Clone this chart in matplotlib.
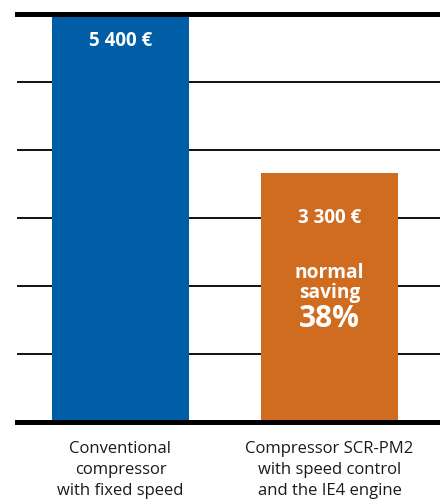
import matplotlib
matplotlib.use("Agg")
import matplotlib.pyplot as plt
from matplotlib.ticker import MultipleLocator

categories = ["Conventional\ncompressor\nwith fixed speed",
              "Compressor SCR-PM2\nwith speed control\nand the IE4 engine"]
values = [5400, 3300]
value_labels = ["5 400 €", "3 300 €"]
saving_label = "38%"
colors = ["#005EA6", "#D06C20"]

plt.rcParams['font.family'] = ['Open Sans', 'DejaVu Sans']

fig = plt.figure(figsize=(4.4, 5.0), dpi=100)
H = 500.0
ax = fig.add_axes([17/440, (H-422)/H, 423/440, 408/H])

x = [0, 1]
ax.bar(x, values, width=0.6555, color=colors, zorder=2)
ax.set_xlim(-0.495, 1.529)
ax.set_ylim(0, max(values))

ax.yaxis.set_major_locator(MultipleLocator(max(values)/6))
ax.grid(axis='y', color='#111111', linewidth=1.4, zorder=1)
ax.set_axisbelow(True)
ax.tick_params(left=False, bottom=False, labelleft=False, labelbottom=False)
for s in ['left', 'right']:
    ax.spines[s].set_visible(False)
for s in ['top', 'bottom']:
    ax.spines[s].set_linewidth(3.6)
    ax.spines[s].set_color('black')
    ax.spines[s].set_zorder(3)

def ya(ypx):
    return (422 - ypx) / 408.0

trans = ax.get_xaxis_transform()
ax.text(x[0], ya(41), value_labels[0], transform=trans, ha='center', va='center',
        color='white', fontsize=13.5, fontweight='bold')
ax.text(x[1], ya(218), value_labels[1], transform=trans, ha='center', va='center',
        color='white', fontsize=13.5, fontweight='bold')
ax.text(x[1], ya(283), "normal\nsaving", transform=trans, ha='center', va='center',
        color='white', fontsize=13.8, fontweight='bold', linespacing=0.95)
ax.text(x[1], ya(319), saving_label, transform=trans, ha='center', va='center',
        color='white', fontsize=21.5, fontweight='bold')

for xi, lab in zip(x, categories):
    ax.text(xi, ya(470), lab, transform=trans, ha='center', va='center',
            color='#1a1a1a', fontsize=12, linespacing=1.38)

fig.savefig("out.png", dpi=100)
